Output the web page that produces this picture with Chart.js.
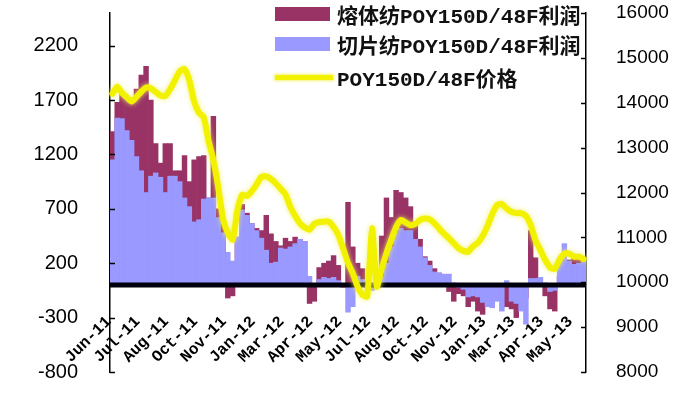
<!DOCTYPE html>
<html><head><meta charset="utf-8">
<script src="https://cdn.jsdelivr.net/npm/chart.js@4.4.1/dist/chart.umd.min.js"></script>
<style>
html,body{margin:0;padding:0;background:#fff;}
#wrap{position:relative;width:682px;height:400px;overflow:hidden;}
#c{position:absolute;left:0;top:0;}
.row{position:absolute;left:275px;height:22px;display:flex;align-items:center;font-family:"Liberation Mono","Noto Sans CJK SC",monospace;font-weight:bold;font-size:21px;color:#111;white-space:nowrap;}
.sw{width:55px;height:14px;margin-right:7px;}
.ln{width:58px;height:5px;margin-right:4px;background:#f2f200;box-shadow:0 0 3px 1px rgba(240,240,80,0.8);}
</style></head>
<body>
<div id="wrap">
<canvas id="c" width="682" height="400"></canvas>
<div class="row" style="top:3px"><div class="sw" style="background:#993366"></div><span id="l1"></span></div>
<div class="row" style="top:33px"><div class="sw" style="background:#9999ff"></div><span id="l2"></span></div>
<div class="row" style="top:66px"><div class="ln"></div><span id="l3"></span></div>
</div>
<script>
const seriesNames = ['熔体纺POY150D/48F利润', '切片纺POY150D/48F利润', 'POY150D/48F价格'];
const xTickLabels = ['Jun-11','Jul-11','Aug-11','Oct-11','Nov-11','Jan-12','Mar-12','Apr-12','May-12','Jul-12','Aug-12','Oct-12','Nov-12','Jan-13','Mar-13','Apr-13','May-13'];
const labelEvery = 6;
const leftTicks = [-800,-300,200,700,1200,1700,2200];
const rightTicks = [8000,9000,10000,11000,12000,13000,14000,15000,16000];

const meltProfit = [
 1410,1680,1750,1700,1690,1800,1930,2010,1700,1300,
 1120,1300,1300,1050,1050,1190,950,1150,1180,1190,
 800,1550,700,560,-120,-100,440,740,660,565,
 520,500,640,470,400,360,430,400,440,420,
 400,-170,-150,160,200,220,270,180,-20,760,
 350,200,150,30,-20,50,450,800,620,870,
 850,800,720,550,420,260,220,150,110,60,
 -60,-150,-80,-100,-200,-150,-240,-270,-150,-100,
 -80,-90,-200,-220,-300,-150,-120,500,250,70,
 -100,-220,-240,80,220,230,250,260,220];
const chipProfit = [
 1150,1535,1530,1420,1330,1180,1050,850,1000,1030,
 990,850,1000,1000,950,800,720,580,600,790,
 800,800,620,480,300,220,440,690,640,565,
 500,430,320,200,210,340,330,350,380,420,
 400,80,0,50,70,60,70,40,0,-250,
 -200,80,50,-30,-50,0,80,200,350,480,
 520,500,500,420,350,250,180,120,110,100,
 100,20,-20,-40,-110,-100,-110,-160,-200,-210,
 -150,-240,40,-150,-170,-240,-360,60,60,70,
 20,-60,-50,250,380,220,190,200,220];
const price = [
 14200,14356,14220,14120,14030,14130,14245,14340,14320,14240,
 14160,14150,14300,14500,14700,14750,14500,14030,13780,13680,
 13150,12720,12130,11420,11100,10950,11600,11950,11920,12030,
 12180,12350,12360,12300,12200,12080,11960,11680,11480,11314,
 11220,11170,11300,11340,11350,11350,11230,11050,10750,10430,
 10200,9900,9720,9680,11200,9900,10300,10650,10950,11230,
 11390,11330,11270,11300,11390,11420,11400,11310,11190,11080,
 10980,10870,10760,10700,10680,10800,10880,11030,11250,11520,
 11720,11740,11640,11570,11540,11540,11480,11280,10930,10720,
 10500,10330,10300,10500,10640,10640,10570,10570,10520];

document.getElementById('l1').textContent = seriesNames[0];
document.getElementById('l2').textContent = seriesNames[1];
document.getElementById('l3').textContent = seriesNames[2];

const categories = meltProfit.map((_, i) => i % labelEvery === 0 ? (xTickLabels[i / labelEvery] || '') : '');

const axisDeco = {
  id: 'axisDeco',
  beforeDatasetDraw(chart, args) {
    if (args.meta.type !== 'line') return;
    const ctx = chart.ctx, a = chart.chartArea, y = chart.scales.y;
    const y0 = y.getPixelForValue(0);
    ctx.save();
    ctx.strokeStyle = '#00000c';
    ctx.lineWidth = 5;
    ctx.beginPath(); ctx.moveTo(a.left, y0); ctx.lineTo(a.right, y0); ctx.stroke();
    ctx.restore();
    ctx.save();
    ctx.shadowColor = 'rgba(240,240,90,0.9)';
    ctx.shadowBlur = 5;
  },
  afterDatasetDraw(chart, args) {
    if (args.meta.type !== 'line') return;
    chart.ctx.restore();
  },
  afterDraw(chart) {
    const ctx = chart.ctx, a = chart.chartArea;
    ctx.save();
    ctx.strokeStyle = '#000'; ctx.lineWidth = 1.5;
    chart.scales.y.ticks.forEach(t => {
      const p = Math.round(chart.scales.y.getPixelForValue(t.value)) + 0.5;
      ctx.beginPath(); ctx.moveTo(a.left, p); ctx.lineTo(a.left + 5, p); ctx.stroke();
    });
    chart.scales.y1.ticks.forEach(t => {
      const p = Math.round(chart.scales.y1.getPixelForValue(t.value)) + 0.5;
      ctx.beginPath(); ctx.moveTo(a.right - 5, p); ctx.lineTo(a.right, p); ctx.stroke();
    });
    ctx.restore();
  }
};

function noPad(s) { s.paddingTop = 0; s.paddingBottom = 0; s.paddingLeft = 0; s.paddingRight = 0; }

new Chart(document.getElementById('c'), {
  type: 'bar',
  data: {
    labels: categories,
    datasets: [
      { type: 'line', label: seriesNames[2], data: price, yAxisID: 'y1', borderColor: '#f2f200', borderWidth: 6, pointRadius: 0, tension: 0.2, order: 0, borderJoinStyle: 'round', borderCapStyle: 'round' },
      { type: 'bar', label: seriesNames[1], data: chipProfit, yAxisID: 'y', backgroundColor: '#9999ff', order: 1, grouped: false, barPercentage: 1, categoryPercentage: 1, borderWidth: 0 },
      { type: 'bar', label: seriesNames[0], data: meltProfit, yAxisID: 'y', backgroundColor: '#993366', order: 2, grouped: false, barPercentage: 1, categoryPercentage: 1, borderWidth: 0 }
    ]
  },
  options: {
    responsive: false,
    animation: false,
    layout: { padding: { top: 13, bottom: 0, left: 0, right: 0 } },
    plugins: { legend: { display: false }, tooltip: { enabled: false } },
    scales: {
      x: {
        offset: true, z: 1,
        grid: { display: false }, border: { display: false },
        ticks: { autoSkip: false, maxRotation: 45, minRotation: 45, mirror: true, padding: 46, labelOffset: 10, color: '#000',
                 font: { family: 'Liberation Mono', weight: 'bold', size: 16 } },
        afterFit(s) { s.height = 28; noPad(s); }
      },
      y: {
        position: 'left', min: -800, max: 2500,
        afterBuildTicks(s) { s.ticks = leftTicks.map(v => ({ value: v })); },
        grid: { display: false }, border: { display: true, color: '#000', width: 1.5 },
        ticks: { padding: 24, color: '#000', font: { family: 'Liberation Sans', size: 20 }, callback: v => String(v) },
        afterFit(s) { s.width = 110; noPad(s); }
      },
      y1: {
        position: 'right', min: 8000, max: 16000,
        afterBuildTicks(s) { s.ticks = rightTicks.map(v => ({ value: v })); },
        grid: { display: false }, border: { display: true, color: '#000', width: 1.5 },
        ticks: { padding: 22, color: '#000', font: { family: 'Liberation Sans', size: 19 }, callback: v => String(v) },
        afterFit(s) { s.width = 96; noPad(s); }
      }
    }
  },
  plugins: [axisDeco]
});
</script>
</body></html>
